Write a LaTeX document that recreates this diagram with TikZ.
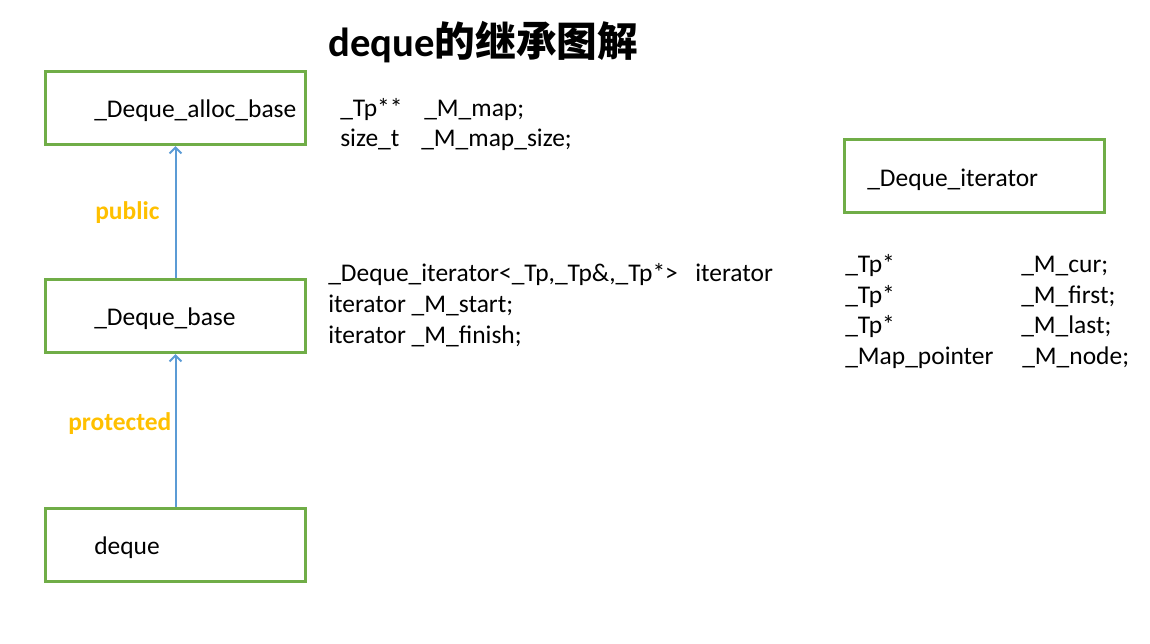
\documentclass[tikz,border=0pt]{standalone}
\usepackage{fontspec}
\setmainfont{Carlito}
\newfontfamily\cjk{Noto Sans CJK SC}
\usetikzlibrary{arrows.meta}
\definecolor{boxgreen}{HTML}{70AD47}
\definecolor{arrowblue}{HTML}{5B9BD5}
\definecolor{labelorange}{HTML}{FFC000}
\begin{document}
\begin{tikzpicture}[x=0.75pt,y=-0.75pt,
  box/.style={draw=boxgreen,line width=2.25pt,minimum width=195.5pt,minimum height=55pt,inner sep=0pt},
  txt/.style={anchor=base west,inner sep=0pt,font=\fontsize{19.1}{22}\selectfont},
  lbl/.style={anchor=base west,inner sep=0pt,text=labelorange,font=\fontsize{19.1}{22}\selectfont\bfseries},
  arr/.style={draw=arrowblue,line width=1.5pt,-{Straight Barb[length=4.5pt,width=9pt,line width=1.4pt]}}]
\useasboundingbox (0,0) rectangle (1150,643);
% title
\node[anchor=base west,inner sep=0pt,font=\fontsize{30.5}{34}\selectfont\bfseries] (title) at (328,56) {deque{\cjk\bfseries 的继承图解}};
% boxes
\node[box] (alloc) at (175.5,108) {};
\node[box] (base) at (175.5,316) {};
\node[box] (deque) at (175.5,545) {};
\node[box] (iter) at (974.5,176) {};
\node[txt] (alloct) at (94,117) {\_Deque\_alloc\_base};
\node[txt] (baset) at (94,325) {\_Deque\_base};
\node[txt] (dequet) at (94,554) {deque};
\node[txt] (itert) at (867,186) {\_Deque\_iterator};
% arrows
\draw[arr] (base.north) -- (alloc.south);
\draw[arr] (deque.north) -- (base.south);
\node[lbl] (pub) at (95,219) {public};
\node[lbl] (prot) at (68,430) {protected};
% alloc base members
\node[txt] (m1a) at (340,116) {\_Tp**};
\node[txt] (m1b) at (424,116) {\_M\_map;};
\node[txt] (m2a) at (340,146) {size\_t};
\node[txt] (m2b) at (421,146) {\_M\_map\_size;};
% deque base members
\node[txt] (b1a) at (328,281) {\_Deque\_iterator<\_Tp,\_Tp\&,\_Tp*>};
\node[txt] (b1b) at (695,281) {iterator};
\node[txt] (b2) at (328,312) {iterator \_M\_start;};
\node[txt] (b3) at (328,343) {iterator \_M\_finish;};
% iterator members
\node[txt] (i1a) at (845,272) {\_Tp*};
\node[txt] (i1b) at (1021,272) {\_M\_cur;};
\node[txt] (i2a) at (845,303) {\_Tp*};
\node[txt] (i2b) at (1021,303) {\_M\_first;};
\node[txt] (i3a) at (845,333) {\_Tp*};
\node[txt] (i3b) at (1021,333) {\_M\_last;};
\node[txt] (i4a) at (845,364) {\_Map\_pointer};
\node[txt] (i4b) at (1022,364) {\_M\_node;};
\end{tikzpicture}
\end{document}
